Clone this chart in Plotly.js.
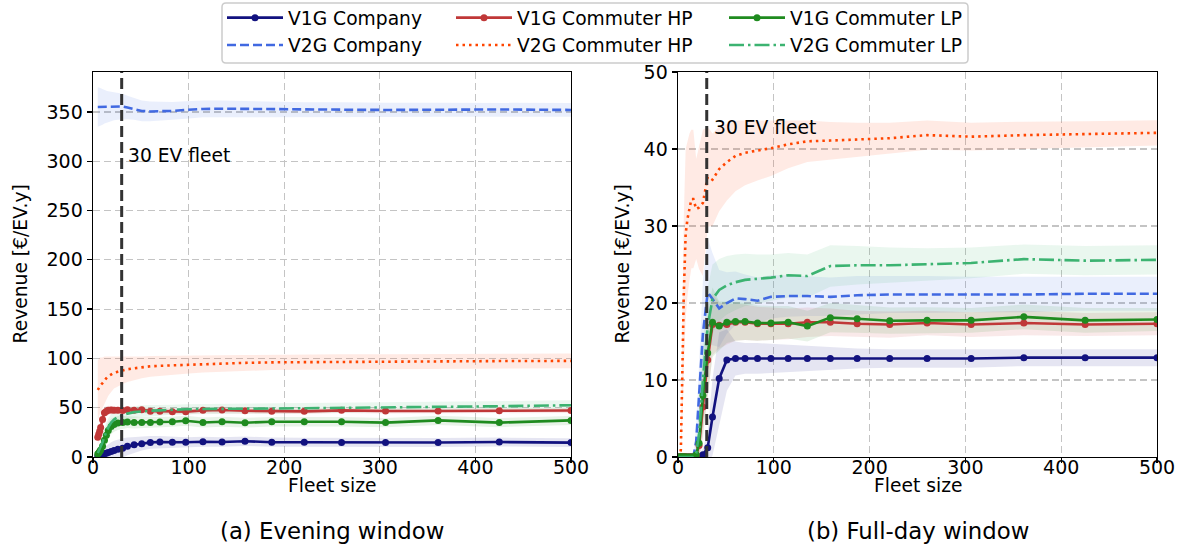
<!DOCTYPE html>
<html>
<head>
<meta charset="utf-8">
<script src="https://cdn.plot.ly/plotly-3.0.1.min.js"></script>
<style>
html,body{margin:0;padding:0;background:#fff;}
#chart{width:1185px;height:549px;}
</style>
</head>
<body>
<div id="chart"></div>
<script>
// ---------------- DATA ----------------
// Fleet sizes
const xEve = [5,6,7,8,10,12,14,16,19,22,26,31,36,43,51,60,70,83,97,115,135,159,187,221,260,306,361,425,500];
const xDay = [1,2,3,4,5,6,7,8,10,12,14,16,19,22,26,31,36,43,51,60,70,83,97,115,135,159,187,221,260,306,361,425,500];

// (a) Evening window — mean revenue [€/EV.y]
const eveV1gCompany = [1,1.3,1.6,2,2.5,3.2,3.8,4.5,5.5,6.5,7.8,9,10.8,12.3,13.5,14.8,15.2,15,15,15.5,15.2,16,15,15,14.8,14.8,14.7,15.2,14.6];
const eveV1gHp      = [20,23,26,30,38,45,46.5,47.5,47.7,47.5,47.5,47.2,48,47.5,48,46.5,46.5,46,46,47.3,47.6,46.9,46.3,46.3,47.3,46.6,46.6,47,47.2];
const eveV1gLp      = [3,4,5.5,7,11,17,22,27,31,33,34.5,35,35.5,35,35,35,35.5,35.8,36.8,35,35.8,34.8,35.8,35.8,35.8,34.9,37.1,34.9,37.1];
const eveV2gCompany = [355,355,355,355,355,355.3,355.5,355.5,355.5,355.5,355.5,355.5,354.5,353,351,350.5,350.5,351,352,353,353.3,353,352.5,352.3,352.3,352,352.3,352.5,352];
const eveV2gHp      = [68,70,72,73,75,78,80,82,84,85.5,86.5,88,89,90,91,92,92.5,93,93.5,94.3,95,95.5,96,96.3,96.5,96.8,97,97.3,97.5];
const eveV2gLp      = [4,6,8,10,15,21,26,30,35,38,40.5,42.5,44,45.5,46.5,47,47.3,48,48.5,48.7,49,49,49.2,49.5,49.8,50.2,51,51.5,52.5];
// (a) Evening window — half-width of shaded band
const eveV1gCompanyHw = [2,3,4,5,6,7,8,9,9.5,10,10,10,9,8,7,6.5,6,5.5,5,5,4.8,4.8,4.7,4.6,4.6,4.5,4.5,4.5,4.5];
const eveV1gHpHw      = [8,8,8,7,7,6,5,4.5,4,4,3.5,3.5,3.5,3.2,3,3,3,3,3,2.8,2.8,2.7,2.7,2.6,2.6,2.5,2.5,2.5,2.5];
const eveV1gLpHw      = [4,5,6,7,8,9,9,8.5,8,7.5,7,6.5,6,6,5.5,5.5,5.2,5,5,5,5,5,4.8,4.8,4.8,4.7,4.7,4.6,4.6];
const eveV2gCompanyHw = [20,20,19.5,19,18,17,16,15.5,15,14,13.5,13,12,11,10.5,10,9.5,9,8.8,8.5,8.2,8,7.8,7.5,7.4,7.2,7.1,7,7];
const eveV2gHpHw      = [30,30,29,28,26,24,22,20,18,16,15,14,13,12,11,10.5,10,9.5,9,8.5,8.2,8,7.8,7.7,7.6,7.5,7.5,7.5,7.5];
const eveV2gLpHw      = [4,5,6,7,8,9,9,9,8.5,8,7.5,7,6.5,6,6,5.5,5.5,5,5,5,5,5,5,5,5,5,5,5,5];

// (b) Full-day window — mean revenue [€/EV.y]
const dayV1gCompany = [0,0,0,0,0,0,0,0,0,0,0,0,0,0,0.3,1.2,5.2,10.2,12.6,12.8,12.8,12.8,12.8,12.8,12.8,12.8,12.8,12.8,12.8,12.8,12.9,12.9,12.9];
const dayV1gHp      = [0,0,0,0,0,0,0,0,0,0,0,0,0.2,1.5,6.5,12.6,17.2,17.1,17.2,17.5,17.5,17.3,17.3,17.3,17.5,17.5,17.3,17.2,17.4,17.2,17.4,17.2,17.3];
const dayV1gLp      = [0,0,0,0,0,0,0,0,0,0,0,0,0.3,1.8,8,13.5,17.5,17.0,17.5,17.6,17.6,17.4,17.4,17.5,17.0,18.1,17.95,17.7,17.75,17.75,18.2,17.75,17.85];
const dayV2gCompany = [0,0,0,0,0,0,0,0,0,0,0,0,2,8,16,21.4,20.5,19.3,20,20.6,20.5,20.3,20.8,20.9,20.9,20.8,21.0,21.1,21.1,21.1,21.1,21.2,21.2];
const dayV2gHp      = [0,0,1,6,14,21,26,29,31,32.5,33.5,33.5,32.2,32.4,33,36.4,36,37.4,38.3,39.1,39.5,39.8,40.1,40.6,41,41.1,41.2,41.4,41.8,41.6,41.8,41.9,42.1];
const dayV2gLp      = [0,0,0,0,0,0,0,0,0,0,0,0,0.5,3,10,17,20.5,21.7,22.3,22.7,23,23.1,23.3,23.6,23.5,24.8,24.9,24.9,25.0,25.2,25.7,25.5,25.6];
// (b) Full-day window — half-width of shaded band
const dayV1gCompanyHw = [0,0,0,0,0,0,0,0,0,0,0,0,0,0.2,0.8,2,5,6,4,2.2,2,2,1.9,1.8,1.6,1.5,1.3,1.2,1.2,1.2,1.1,1.1,1.1];
const dayV1gHpHw      = [0,0,0,0,0,0,0,0,0,0,0,0,0.5,2,4,5,4,3,2.6,2.4,2.3,2.2,2.1,2,1.9,1.8,1.7,1.7,1.6,1.6,1.6,1.5,1.5];
const dayV1gLpHw      = [0,0,0,0,0,0,0,0,0,0,0,0,0.6,2.5,5,5.5,4.5,3.2,2.7,2.5,2.4,2.3,2.2,2.1,2,1.9,1.8,1.7,1.7,1.6,1.6,1.6,1.5];
const dayV2gCompanyHw = [0,0,0,0,0,0,0,0,0,0,0,0,2,5,7,7,6,5,4,3.5,3.2,3,2.8,2.7,2.6,2.5,2.5,2.4,2.4,2.3,2.3,2.2,2.2];
const dayV2gHpHw      = [0,0,0.5,3,8,10,11,11,10,9.5,9,9,6.5,8,9.5,6.5,6,5.5,5,4.6,4.2,3.9,3.6,3.1,2.7,2.4,2.2,2.0,1.9,1.8,1.75,1.7,1.65];
const dayV2gLpHw      = [0,0,0,0,0,0,0,0,0,0,0,0,1,3,5,5,4.5,4,3.8,3.6,3.4,3.2,3,2.9,2.8,2.7,2.5,2.3,2.1,2,1.9,1.9,1.9];

const seriesNames = ['V1G Company','V2G Company','V1G Commuter HP','V2G Commuter HP','V1G Commuter LP','V2G Commuter LP'];
const fleetMark = 30;
const yTicksEve = [0,50,100,150,200,250,300,350];
const yTicksDay = [0,10,20,30,40,50];
const xTicks = [0,100,200,300,400,500];
const xTitle = 'Fleet size';
const yTitle = 'Revenue [€/EV.y]';
const captions = ['(a) Evening window', '(b) Full-day window'];
const markLabel = '30 EV fleet';

// ---------------- STYLE ----------------
const FONT = 'DejaVu Sans, Verdana, sans-serif';
const styles = [
  {color:'#12127f', fill:'rgba(0,0,128,0.10)', dash:'solid', markers:true, legend:'legend'},
  {color:'#4169E1', fill:'rgba(65,105,225,0.11)', dash:'9px,4px', markers:false, legend:'legend'},
  {color:'#c03838', fill:'rgba(200,40,40,0.10)', dash:'solid', markers:true, legend:'legend2'},
  {color:'#FF4500', fill:'rgba(255,80,30,0.12)', dash:'2.5px,4px', markers:false, legend:'legend2'},
  {color:'#1f8b1f', fill:'rgba(34,139,34,0.10)', dash:'solid', markers:true, legend:'legend3'},
  {color:'#3CB371', fill:'rgba(60,179,113,0.11)', dash:'15px,4px,2.5px,4px', markers:false, legend:'legend3'}
];

const eveMeans = [eveV1gCompany, eveV2gCompany, eveV1gHp, eveV2gHp, eveV1gLp, eveV2gLp];
const eveHws   = [eveV1gCompanyHw, eveV2gCompanyHw, eveV1gHpHw, eveV2gHpHw, eveV1gLpHw, eveV2gLpHw];
const dayMeans = [dayV1gCompany, dayV2gCompany, dayV1gHp, dayV2gHp, dayV1gLp, dayV2gLp];
const dayHws   = [dayV1gCompanyHw, dayV2gCompanyHw, dayV1gHpHw, dayV2gHpHw, dayV1gLpHw, dayV2gLpHw];

function band(xs, m, hw, xa, ya, st) {
  const hi = m.map((v,i)=>v+hw[i]);
  const lo = m.map((v,i)=>v-hw[i]);
  return {
    x: xs.concat(xs.slice().reverse()),
    y: hi.concat(lo.slice().reverse()),
    xaxis: xa, yaxis: ya, type:'scatter', mode:'lines', fill:'toself',
    fillcolor: st.fill, line:{width:0, color:'rgba(0,0,0,0)'},
    hoverinfo:'skip', showlegend:false
  };
}
function line(xs, m, xa, ya, st, name, showLeg) {
  return {
    x: xs, y: m, xaxis: xa, yaxis: ya, type:'scatter',
    mode: st.markers ? 'lines+markers' : 'lines',
    name: name, legend: st.legend, showlegend: showLeg,
    line: {color: st.color, width: 2.6, dash: st.dash},
    marker: {color: st.color, size: 7}
  };
}

const traces = [];
for (let i=0;i<6;i++) traces.push(band(xEve, eveMeans[i], eveHws[i], 'x', 'y', styles[i]));
for (let i=0;i<6;i++) traces.push(band(xDay, dayMeans[i], dayHws[i], 'x2', 'y2', styles[i]));
for (let i=0;i<6;i++) traces.push(line(xEve, eveMeans[i], 'x', 'y', styles[i], seriesNames[i], true));
for (let i=0;i<6;i++) traces.push(line(xDay, dayMeans[i], 'x2', 'y2', styles[i], seriesNames[i], false));

const W = 1185, H = 549;
const mL = 93, mR = 28, mT = 72, mB = 92;
const pw = W - mL - mR, ph = H - mT - mB;
const px2x = p => (p - mL) / pw;
const py2y = p => 1 + (mT - p) / ph;

const axisCommon = {
  showline:true, linecolor:'#000', linewidth:1.4, mirror:true,
  ticks:'outside', ticklen:5, tickwidth:1.3, tickcolor:'#000',
  showgrid:true, gridcolor:'#c4c4c4', gridwidth:1.2, griddash:'7px,4px',
  zeroline:false, automargin:false, tickfont:{family:FONT, size:19, color:'#000'}
};
const xCommon = Object.assign({}, axisCommon, {range:[0,500], tickvals:xTicks, ticklabelstandoff:-12});

const legendCommon = {
  orientation:'v', bgcolor:'rgba(0,0,0,0)', borderwidth:0,
  font:{family:FONT, size:18.7, color:'#000'},
  yanchor:'top', xanchor:'left', itemwidth:56, tracegroupgap:0
};

// rounded legend frame (paper coords)
function roundRect(x0p, y0p, x1p, y1p, r) {
  const X = p => px2x(p), Y = p => py2y(p);
  return 'M' + X(x0p + r) + ',' + Y(y0p) +
    ' L' + X(x1p - r) + ',' + Y(y0p) +
    ' Q' + X(x1p) + ',' + Y(y0p) + ' ' + X(x1p) + ',' + Y(y0p + r) +
    ' L' + X(x1p) + ',' + Y(y1p - r) +
    ' Q' + X(x1p) + ',' + Y(y1p) + ' ' + X(x1p - r) + ',' + Y(y1p) +
    ' L' + X(x0p + r) + ',' + Y(y1p) +
    ' Q' + X(x0p) + ',' + Y(y1p) + ' ' + X(x0p) + ',' + Y(y1p - r) +
    ' L' + X(x0p) + ',' + Y(y0p + r) +
    ' Q' + X(x0p) + ',' + Y(y0p) + ' ' + X(x0p + r) + ',' + Y(y0p) + ' Z';
}

const txt = (s) => ({family:FONT, size:s, color:'#000'});

const layout = {
  width:W, height:H, paper_bgcolor:'#fff', plot_bgcolor:'#fff',
  margin:{l:mL, r:mR, t:mT, b:mB, pad:0, autoexpand:false},
  showlegend:true,
  font:{family:FONT, color:'#000'},
  xaxis: Object.assign({}, xCommon, {domain:[0, px2x(571)], anchor:'y'}),
  xaxis2: Object.assign({}, xCommon, {domain:[px2x(678), 1], anchor:'y2'}),
  yaxis: Object.assign({}, axisCommon, {range:[0,390.5], tickvals:yTicksEve, anchor:'x'}),
  yaxis2: Object.assign({}, axisCommon, {range:[0,50], tickvals:yTicksDay, anchor:'x2'}),
  legend: Object.assign({}, legendCommon, {x:px2x(222), y:py2y(-1)}),
  legend2: Object.assign({}, legendCommon, {x:px2x(451), y:py2y(-1)}),
  legend3: Object.assign({}, legendCommon, {x:px2x(724), y:py2y(-1)}),
  shapes:[
    {type:'path', xref:'paper', yref:'paper', path: roundRect(222, 3, 968, 63, 4),
     line:{color:'#cccccc', width:1.5}, fillcolor:'#fff', layer:'above'},
    {type:'line', xref:'x', yref:'y domain', x0:fleetMark, x1:fleetMark, y0:0, y1:1,
     line:{color:'#333', width:3, dash:'11px,5px'}, layer:'above'},
    {type:'line', xref:'x2', yref:'y2 domain', x0:fleetMark, x1:fleetMark, y0:0, y1:1,
     line:{color:'#333', width:3, dash:'11px,5px'}, layer:'above'}
  ],
  annotations:[
    {xref:'x', yref:'y', x:fleetMark, y:306, text:markLabel, showarrow:false,
     xanchor:'left', yanchor:'middle', xshift:4, font:txt(18.7)},
    {xref:'x2', yref:'y2', x:fleetMark, y:42.8, text:markLabel, showarrow:false,
     xanchor:'left', yanchor:'middle', xshift:5, font:txt(18.7)},
    {xref:'paper', yref:'paper', x:px2x(332), y:py2y(485), text:xTitle, showarrow:false,
     xanchor:'center', yanchor:'middle', font:txt(18.7)},
    {xref:'paper', yref:'paper', x:px2x(917.5), y:py2y(485), text:xTitle, showarrow:false,
     xanchor:'center', yanchor:'middle', font:txt(18.7)},
    {xref:'paper', yref:'paper', x:px2x(20), y:py2y(264.5), text:yTitle, showarrow:false, textangle:-90,
     xanchor:'center', yanchor:'middle', font:txt(18.7)},
    {xref:'paper', yref:'paper', x:px2x(622), y:py2y(264.5), text:yTitle, showarrow:false, textangle:-90,
     xanchor:'center', yanchor:'middle', font:txt(18.7)},
    {xref:'paper', yref:'paper', x:px2x(332), y:py2y(531), text:captions[0], showarrow:false,
     xanchor:'center', yanchor:'middle', font:txt(22.8)},
    {xref:'paper', yref:'paper', x:px2x(917.5), y:py2y(531), text:captions[1], showarrow:false,
     xanchor:'center', yanchor:'middle', font:txt(22.8)}
  ]
};

Plotly.newPlot('chart', traces, layout, {staticPlot:true, displayModeBar:false});
</script>
</body>
</html>
